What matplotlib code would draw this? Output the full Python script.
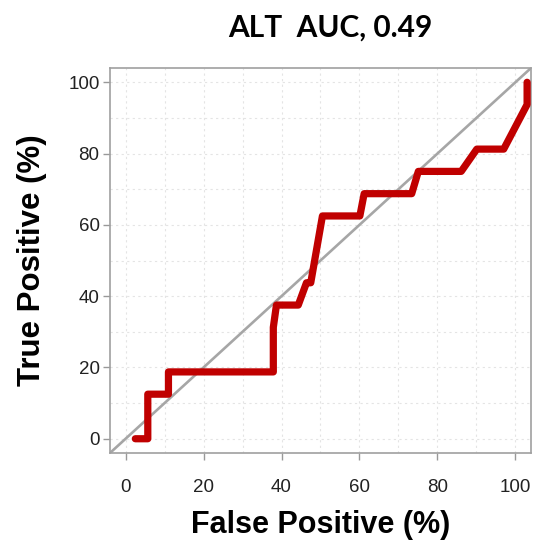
import numpy as np
import matplotlib
matplotlib.use("Agg")
import matplotlib.pyplot as plt
from matplotlib.ticker import MultipleLocator

# ROC curve for ALT (false / true positive rates in %)
fpr = [2.5, 5.7, 5.7, 11.0, 11.0, 37.9, 37.9, 38.7, 44.3, 46.4, 47.5, 50.5,
       60.1, 61.2, 73.4, 75.1, 86.1, 90.1, 97.0, 103.0, 103.0]
tpr = [0.0, 0.0, 12.5, 12.5, 18.75, 18.75, 31.25, 37.5, 37.5, 43.75, 43.75, 62.5,
       62.5, 68.75, 68.75, 75.0, 75.0, 81.25, 81.25, 93.75, 100.0]
ticks = [0, 20, 40, 60, 80, 100]
title = "ALT  AUC, 0.49"

fig = plt.figure(figsize=(5.51, 5.42), dpi=100)
ax = fig.add_axes([0.1996, 0.1642, 0.7641, 0.7103])

lims = (-4, 104)
ax.set_xlim(lims)
ax.set_ylim(lims)

ax.xaxis.set_minor_locator(MultipleLocator(10))
ax.yaxis.set_minor_locator(MultipleLocator(10))
ax.grid(True, which="both", color="#e4e4e4", linestyle=(0, (2, 3)), linewidth=0.8)
ax.set_axisbelow(True)

ax.plot(lims, lims, color="#a6a6a6", linewidth=1.9, zorder=2)
ax.plot(fpr, tpr, color="#c00000", linewidth=5.2, solid_capstyle="round",
        solid_joinstyle="round", zorder=3)

ax.set_xticks(ticks)
ax.set_yticks(ticks)
ax.tick_params(which="major", direction="out", length=5, width=1, color="#999999",
               labelsize=13.5, labelcolor="#222222")
ax.tick_params(axis="x", pad=14)
ax.tick_params(axis="y", pad=2.5)
ax.tick_params(which="minor", length=0)
for sp in ax.spines.values():
    sp.set_color("#a0a0a0")
    sp.set_linewidth(1.2)

ax.set_xlabel("False Positive (%)", fontsize=22, fontweight="bold",
              family="Liberation Sans", labelpad=10)
ax.set_ylabel("True Positive (%)", fontsize=22.5, fontweight="bold",
              family="Liberation Sans", labelpad=15)
for lab in ax.get_xticklabels() + ax.get_yticklabels():
    lab.set_family("Liberation Sans")

fig.text(0.599, 0.950, title, ha="center", va="center", fontsize=21.5,
         fontweight="bold", family="Lato")

fig.savefig("out.png", dpi=100)
